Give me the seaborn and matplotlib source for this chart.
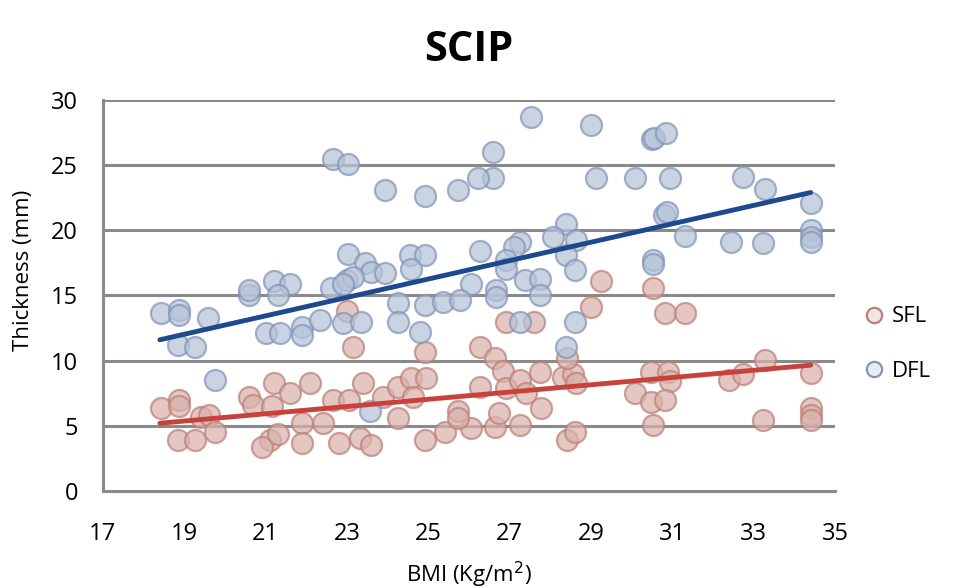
import numpy as np
import pandas as pd
import matplotlib
matplotlib.use("Agg")
import matplotlib.pyplot as plt
from matplotlib.lines import Line2D
import seaborn as sns

sfl_bmi = [18.44, 18.87, 18.87, 19.4, 19.6, 19.75, 18.85, 19.26, 20.6, 20.7,
           21.2, 21.15, 21.6, 22.1, 22.4, 21.9, 21.9, 21.1, 20.9, 21.3,
           22.8, 22.66, 23.05, 23.0, 23.15, 26.9, 27.6, 29.0, 24.91, 26.27,
           26.63, 26.84, 23.4, 23.89, 24.26, 24.58, 24.95, 24.62, 26.27, 26.92,
           27.25, 27.4, 27.74, 28.3, 28.55, 28.64, 27.78, 24.26, 25.73, 26.06,
           26.63, 26.75, 27.25, 25.4, 24.91, 23.31, 23.6, 28.4, 28.6, 29.25,
           30.52, 30.81, 31.3, 30.48, 30.89, 30.93, 30.07, 30.48, 30.81, 30.52,
           32.4, 32.73, 33.27, 33.22, 34.41, 34.41, 34.41, 34.41, 25.73, 28.4]
sfl_thk = [6.35, 7.0, 6.5, 5.7, 5.8, 4.55, 3.9, 3.9, 7.2, 6.6,
           8.3, 6.5, 7.5, 8.3, 5.2, 5.2, 3.65, 3.9, 3.4, 4.4,
           3.65, 7.0, 7.0, 13.8, 11.07, 13.0, 13.0, 14.1, 10.7, 11.07,
           10.2, 9.2, 8.3, 7.2, 8.0, 8.65, 8.65, 7.2, 8.0, 7.9,
           8.5, 7.5, 9.15, 8.77, 9.0, 8.26, 6.35, 5.58, 6.1, 4.8,
           4.93, 5.96, 5.06, 4.55, 3.9, 4.05, 3.5, 3.9, 4.55, 16.1,
           15.6, 13.64, 13.64, 9.15, 9.15, 8.4, 7.5, 6.85, 7.0, 5.06,
           8.5, 9.0, 10.05, 5.45, 9.03, 6.35, 5.83, 5.45, 5.6, 10.2]

dfl_bmi = [18.44, 18.87, 18.87, 19.59, 18.85, 19.26, 19.75, 20.6, 20.6, 21.0,
           21.35, 21.9, 21.9, 22.33, 22.9, 22.66, 23.03, 23.03, 21.2, 21.6,
           21.3, 22.6, 23.0, 27.53, 29.0, 26.6, 26.6, 26.22, 25.73, 24.91,
           23.93, 29.13, 28.39, 28.07, 28.64, 28.39, 28.6, 27.25, 27.1, 26.9,
           26.9, 26.27, 24.54, 24.91, 24.58, 23.44, 23.6, 23.93, 23.15, 22.9,
           26.06, 26.67, 27.37, 27.74, 27.74, 24.26, 24.91, 25.36, 25.77, 26.67,
           24.26, 23.35, 24.79, 27.25, 28.6, 28.39, 23.56, 30.5, 30.55, 30.85,
           30.07, 30.93, 32.73, 33.27, 34.41, 30.8, 30.86, 31.3, 32.45, 33.22,
           34.41, 34.41, 34.41, 30.52, 30.52]
dfl_thk = [13.64, 13.9, 13.5, 13.25, 11.2, 11.07, 8.5, 15.0, 15.4, 12.1,
           12.1, 12.6, 12.0, 13.1, 12.9, 25.5, 25.1, 18.2, 16.1, 15.9,
           15.0, 15.55, 16.2, 28.7, 28.1, 26.0, 24.0, 24.0, 23.1, 22.6,
           23.1, 24.0, 20.5, 19.5, 19.26, 18.1, 16.96, 19.1, 18.7, 17.7,
           17.0, 18.4, 18.1, 18.1, 17.0, 17.5, 16.8, 16.7, 16.4, 15.9,
           15.9, 15.4, 16.2, 16.3, 15.0, 14.4, 14.3, 14.5, 14.66, 14.9,
           13.0, 13.0, 12.2, 13.0, 13.0, 11.07, 6.1, 27.0, 27.1, 27.5,
           24.0, 24.0, 24.1, 23.2, 22.1, 21.2, 21.4, 19.6, 19.1, 19.0,
           20.0, 19.5, 19.1, 17.7, 17.4]

trend_bmi = [18.4, 34.4]
sfl_trend = [5.2, 9.65]
dfl_trend = [11.6, 22.9]

x_ticks = [17, 19, 21, 23, 25, 27, 29, 31, 33, 35]
y_ticks = [0, 5, 10, 15, 20, 25, 30]

sfl = pd.DataFrame({"BMI": sfl_bmi, "Thickness": sfl_thk})
dfl = pd.DataFrame({"BMI": dfl_bmi, "Thickness": dfl_thk})
trend = pd.DataFrame({"BMI": trend_bmi, "SFL": sfl_trend, "DFL": dfl_trend})

sns.set_style("white")
plt.rcParams["font.family"] = ["Open Sans", "DejaVu Sans"]
plt.rcParams["text.color"] = "black"
plt.rcParams["axes.labelcolor"] = "black"
plt.rcParams["xtick.color"] = "black"
plt.rcParams["ytick.color"] = "black"

fig = plt.figure(figsize=(9.71, 5.88), dpi=100)
ax = fig.add_axes([0.106, 0.165, 0.754, 0.665])

grid_c = "#8a8a8a"
for yv in y_ticks[1:]:
    ax.axhline(yv, color=grid_c, lw=2.2, zorder=0)

red_face = "#dab2ac"
red_edge = "#bb8178"
blue_face = "#b6c3d8"
blue_edge = "#8295b8"

sns.scatterplot(data=sfl, x="BMI", y="Thickness", ax=ax, s=230,
                color=red_face, edgecolor=red_edge, linewidth=1.6, alpha=0.72,
                zorder=2, legend=False)
sns.scatterplot(data=dfl, x="BMI", y="Thickness", ax=ax, s=230,
                color=blue_face, edgecolor=blue_edge, linewidth=1.6, alpha=0.72,
                zorder=2, legend=False)

sns.lineplot(data=trend, x="BMI", y="SFL", ax=ax, color="#c8423b", lw=3.5, zorder=3)
sns.lineplot(data=trend, x="BMI", y="DFL", ax=ax, color="#1d4a8f", lw=3.5, zorder=3)

ax.set_xlim(17, 35)
ax.set_ylim(0, 30)
ax.set_xticks(x_ticks)
ax.set_yticks(y_ticks)
ax.tick_params(axis="both", which="major", labelsize=17, length=8, width=2,
               color=grid_c, direction="out", labelcolor="black")
ax.tick_params(axis="x", pad=14)
ax.tick_params(axis="y", pad=10)
for side in ["top", "right"]:
    ax.spines[side].set_visible(False)
for side in ["left", "bottom"]:
    ax.spines[side].set_color(grid_c)
    ax.spines[side].set_linewidth(2.2)
ax.set_xlabel("BMI (Kg/m$^2$)", fontsize=16)
ax.set_ylabel("Thickness (mm)", fontsize=16)
ax.xaxis.set_label_coords(0.5, -0.175)
ax.yaxis.set_label_coords(-0.094, 0.565)
ax.set_title("SCIP", fontsize=30, fontweight="bold", pad=28)

handles = [
    Line2D([], [], marker="o", ls="none", markersize=11, markerfacecolor="#f4e4e2",
           markeredgecolor=red_edge, markeredgewidth=1.6, label="SFL"),
    Line2D([], [], marker="o", ls="none", markersize=11, markerfacecolor="#e8edf5",
           markeredgecolor=blue_edge, markeredgewidth=1.6, label="DFL"),
]
fig.legend(handles=handles, loc="center left", bbox_to_anchor=(0.868, 0.415),
           frameon=False, fontsize=16, labelspacing=1.5, handletextpad=0.3,
           handlelength=1.0)

fig.savefig("out.png", dpi=100)
